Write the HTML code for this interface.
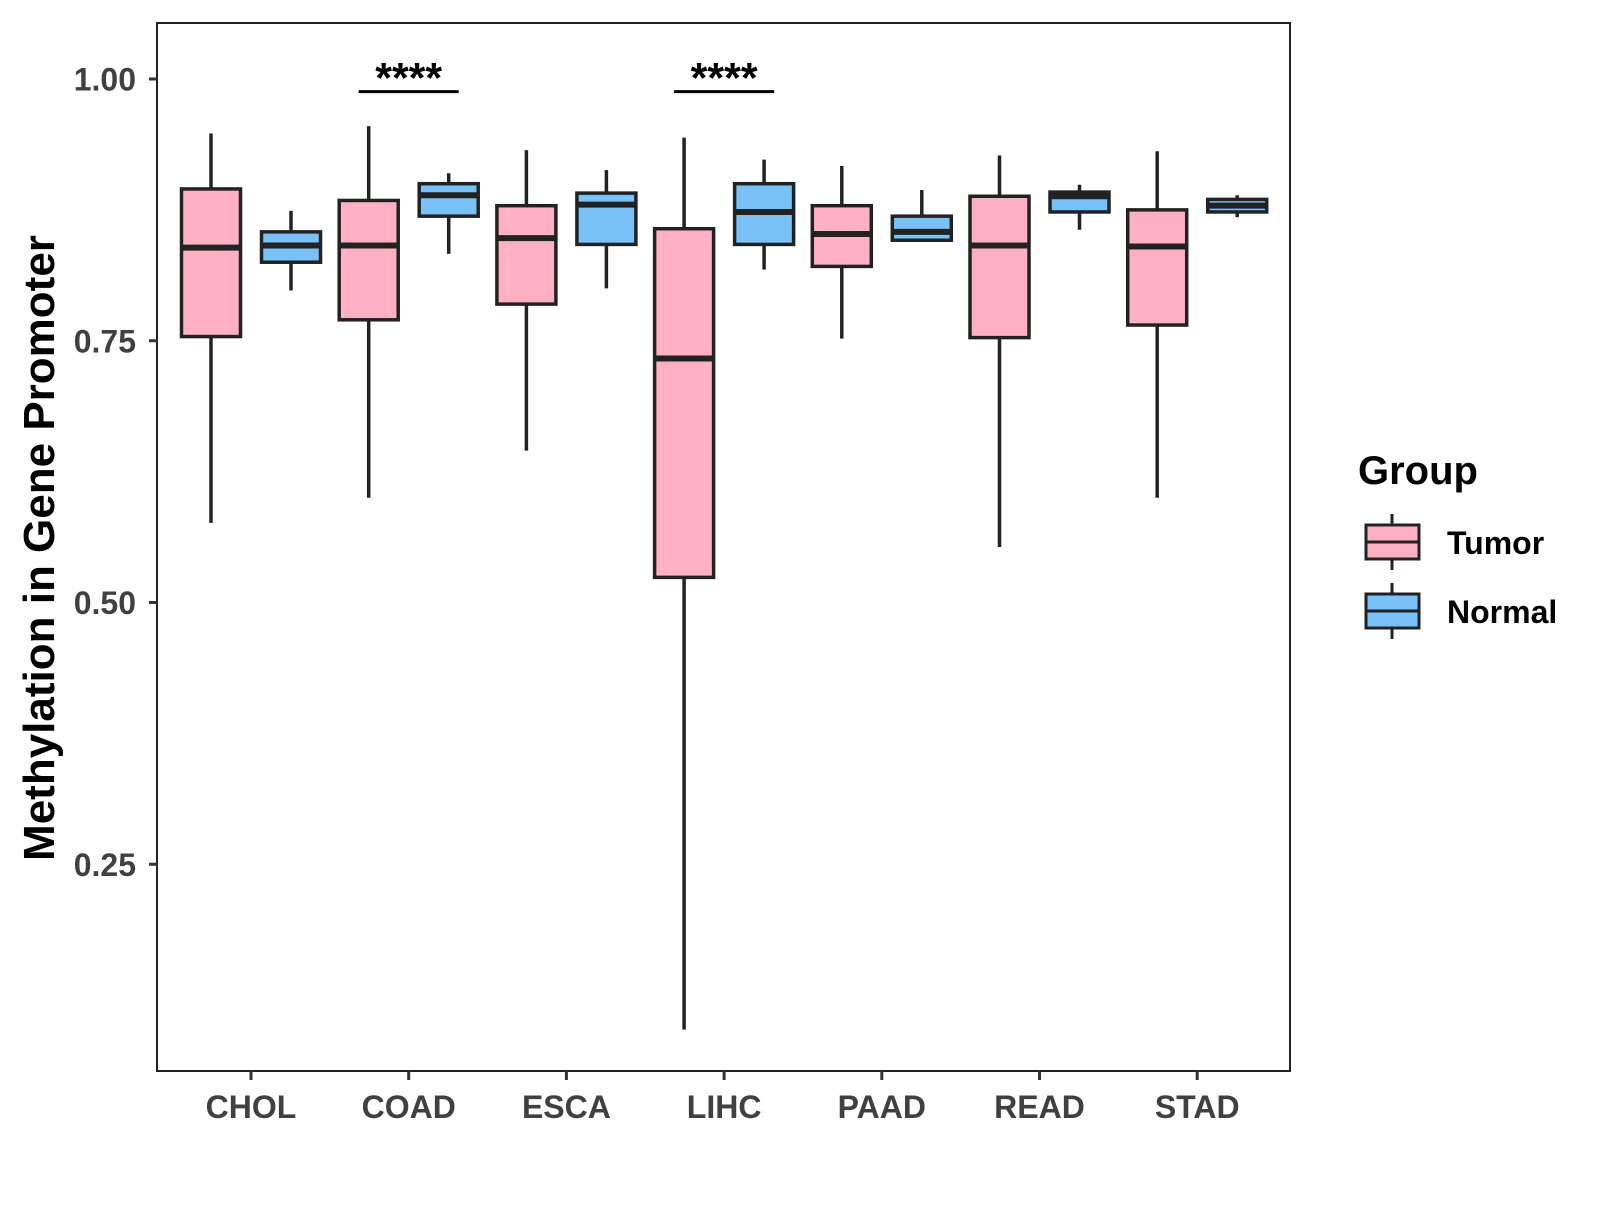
<!DOCTYPE html>
<html><head><meta charset="utf-8"><style>
body{margin:0;background:#fff}
svg text{font-family:"Liberation Sans",Arial,sans-serif;font-weight:bold}
</style></head><body>
<svg id="chart" width="1600" height="1200" xmlns="http://www.w3.org/2000/svg">
<rect width="1600" height="1200" fill="#fff"/>
<g id="plot"></g>
</svg>
<script>
const categories=["CHOL","COAD","ESCA","LIHC","PAAD","READ","STAD"];
const tumorLow=[0.576,0.600,0.645,0.092,0.752,0.553,0.600];
const tumorQ1=[0.754,0.770,0.785,0.524,0.821,0.753,0.765];
const tumorMed=[0.839,0.841,0.848,0.733,0.852,0.841,0.840];
const tumorQ3=[0.895,0.884,0.879,0.857,0.879,0.888,0.875];
const tumorHigh=[0.948,0.955,0.932,0.944,0.917,0.927,0.931];
const normalLow=[0.798,0.833,0.800,0.818,0.846,0.856,0.868];
const normalQ1=[0.825,0.869,0.842,0.842,0.846,0.873,0.873];
const normalMed=[0.841,0.889,0.880,0.873,0.854,0.888,0.879];
const normalQ3=[0.854,0.900,0.891,0.900,0.869,0.892,0.885];
const normalHigh=[0.874,0.910,0.913,0.923,0.894,0.899,0.889];
const yTicks=[0.25,0.50,0.75,1.00];
const yTickLabels=["0.25","0.50","0.75","1.00"];
const sigCats=["COAD","LIHC"];
const sigLevel=[0.988,0.988];
const sigLabels=["****","****"];

const NS="http://www.w3.org/2000/svg";
const g=document.getElementById('plot');
const L=157,T=23,R=1290,B=1071;
function y(v){return 79+(1-v)*1047;}
function x(i){return 251+157.7*i;}
function el(tag,attrs,parent){const e=document.createElementNS(NS,tag);for(const k in attrs)e.setAttribute(k,attrs[k]);(parent||g).appendChild(e);return e;}

const frame=el('rect',{x:L,y:T,width:R-L,height:B-T,fill:'none',stroke:'#222','stroke-width':2});



yTicks.forEach((v,i)=>{
  const t=el('line',{x1:L-8,x2:L,y1:y(v),y2:y(v),stroke:'#333','stroke-width':3});
  
  
  const lb=el('text',{x:L-21,y:y(v)+11.5,'text-anchor':'end','font-size':32,fill:'#404040'});
  lb.textContent=yTickLabels[i];
  
  
});
categories.forEach((c,i)=>{
  const t=el('line',{x1:x(i),x2:x(i),y1:B,y2:B+9,stroke:'#333','stroke-width':3});
  
  
  const lb=el('text',{x:x(i),y:B+47,'text-anchor':'middle','font-size':32,fill:'#404040'});
  lb.textContent=c;
  
  
});

function box(cx,lo,q1,md,q3,hi,fill,name){
  const w=59;
  const grp=el('g',{});
  
  
  el('line',{x1:cx,x2:cx,y1:y(hi),y2:y(q3),stroke:'#222','stroke-width':3.5},grp);
  el('line',{x1:cx,x2:cx,y1:y(q1),y2:y(lo),stroke:'#222','stroke-width':3.5},grp);
  el('rect',{x:cx-w/2,y:y(q3),width:w,height:Math.max(0,y(q1)-y(q3)),fill:fill,stroke:'#222','stroke-width':3.5},grp);
  el('line',{x1:cx-w/2,x2:cx+w/2,y1:y(md),y2:y(md),stroke:'#222','stroke-width':6},grp);
}
categories.forEach((c,i)=>{
  box(x(i)-40,tumorLow[i],tumorQ1[i],tumorMed[i],tumorQ3[i],tumorHigh[i],'#FFB0C2','box-tumor-'+c.toLowerCase());
  box(x(i)+40,normalLow[i],normalQ1[i],normalMed[i],normalQ3[i],normalHigh[i],'#78C2F8','box-normal-'+c.toLowerCase());
});
sigCats.forEach((c,k)=>{
  const i=categories.indexOf(c);
  const ln=el('line',{x1:x(i)-50,x2:x(i)+50,y1:y(sigLevel[k]),y2:y(sigLevel[k]),stroke:'#000','stroke-width':3});
  
  
  const tx=el('text',{x:x(i),y:y(sigLevel[k])+1,'text-anchor':'middle','font-size':43,fill:'#000'});
  tx.textContent=sigLabels[k];
  
  
});

const yt=el('text',{x:0,y:0,'text-anchor':'middle','font-size':44,fill:'#000',transform:'translate(54,548) rotate(-90)'});
yt.textContent='Methylation in Gene Promoter';



const lg=el('text',{x:1358,y:484,'font-size':40,fill:'#000'});
lg.textContent='Group';


[['Tumor','#FFB0C2',542],['Normal','#78C2F8',611]].forEach(([n,f,cy])=>{
  const e=el('g',{});
  
  
  el('line',{x1:1392,x2:1392,y1:cy-28,y2:cy+28,stroke:'#222','stroke-width':3},e);
  el('rect',{x:1366,y:cy-17,width:53,height:34,fill:f,stroke:'#222','stroke-width':3},e);
  el('line',{x1:1366,x2:1419,y1:cy,y2:cy,stroke:'#222','stroke-width':3},e);
  const t=el('text',{x:1447,y:cy+12,'font-size':32,fill:'#000'},e);
  t.textContent=n;
});
</script>
</body></html>
